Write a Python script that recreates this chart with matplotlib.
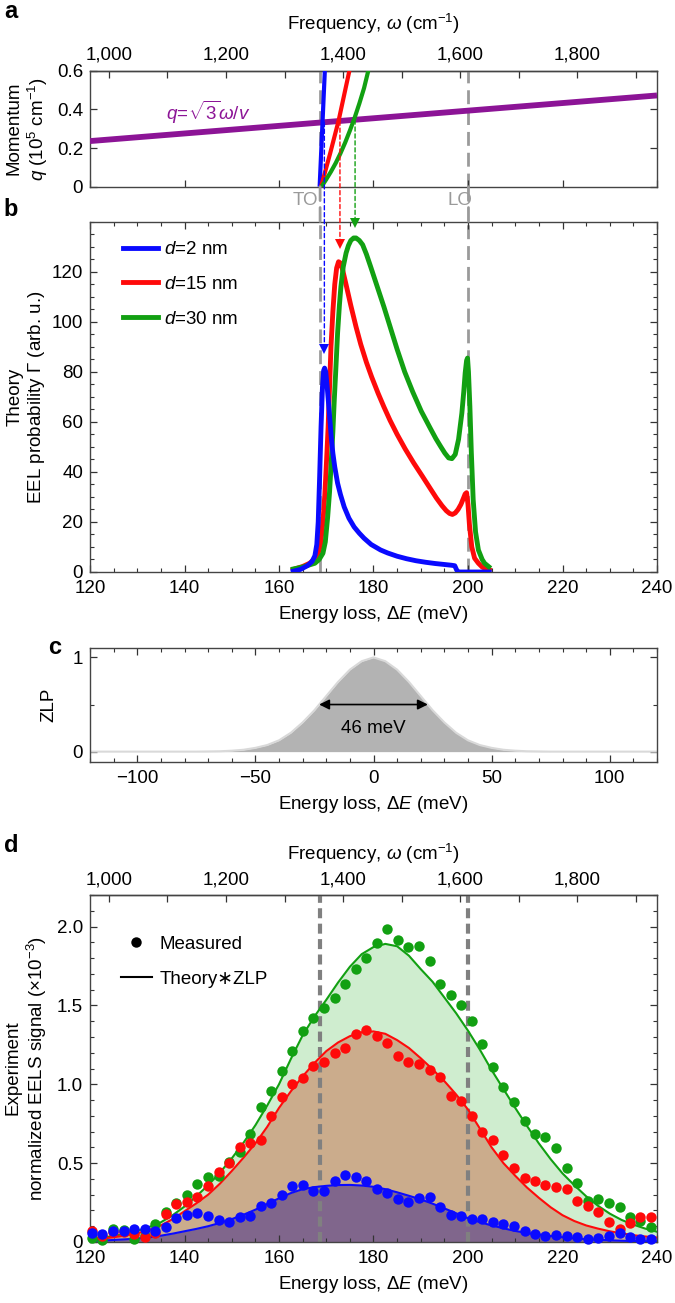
import numpy as np
import matplotlib
matplotlib.use('Agg')
import matplotlib.pyplot as plt
from matplotlib.patches import ConnectionPatch
from matplotlib.ticker import MultipleLocator, FixedLocator, FuncFormatter, NullFormatter
from matplotlib.lines import Line2D

plt.rcParams['font.family'] = ['Liberation Sans', 'DejaVu Sans']
plt.rcParams['mathtext.fontset'] = 'custom'
plt.rcParams['mathtext.rm'] = 'Liberation Sans'
plt.rcParams['mathtext.it'] = 'Liberation Sans:italic'
plt.rcParams['mathtext.bf'] = 'Liberation Sans:bold'
FS = 13.5
plt.rcParams['font.size'] = FS
plt.rcParams['axes.linewidth'] = 1.0
plt.rcParams['axes.edgecolor'] = '#444444'

# ---------------- data ----------------
# panel a: dispersion (energy meV, momentum 1e5 cm^-1)
disp_E_2 = [168.6, 169.7]
disp_q_2 = [0.0, 0.6]
disp_E_15 = [168.9, 170.8, 172.6, 174.9]
disp_q_15 = [0.0, 0.17, 0.34, 0.6]
disp_E_30 = [169.0, 170.0, 171.0, 172.0, 173.0, 174.0, 175.0, 176.0, 177.0, 178.0, 178.9]
disp_q_30 = [0.0, 0.038, 0.078, 0.122, 0.172, 0.228, 0.29, 0.356, 0.43, 0.51, 0.6]
light_E = [120.0, 240.0]
light_q = [0.236, 0.472]
TO_E = 168.7
LO_E = 200.1
arrow_E = [169.6, 172.9, 176.1]
arrow_q = [0.333, 0.339, 0.345]
arrow_tip = [89.0, 131.0, 139.5]

# panel b: theory EEL probability
b_E_2 = [163.0, 164.5, 166.0, 167.0, 167.6, 168.0, 168.3, 168.6, 168.9, 169.2, 169.45, 169.65,
         169.9, 170.2, 170.5, 170.8, 171.1, 171.4, 171.8, 172.4, 173.0, 173.8, 174.8, 175.9,
         177.0, 178.0, 179.5, 181.5, 183.0, 185.0, 187.0, 189.0, 191.0, 193.0, 195.0, 196.5,
         197.2, 197.6, 198.0, 204.5]
b_G_2 = [0.3, 1.0, 2.5, 4.2, 6.5, 11.0, 20.0, 38.0, 58.0, 74.0, 80.5, 81.5,
         80.0, 74.0, 67.0, 60.0, 53.0, 47.5, 42.0, 35.5, 31.0, 26.0, 21.5, 18.0,
         15.5, 13.5, 11.0, 8.8, 7.6, 6.3, 5.3, 4.5, 3.9, 3.4, 3.0, 2.7,
         2.5, 0.8, 0.0, 0.0]
b_E_15 = [163.0, 165.0, 166.5, 167.5, 168.3, 168.8, 169.3, 169.7, 170.0, 170.4, 170.7, 171.0,
          171.4, 171.8, 172.2, 172.6, 173.0, 173.5, 174.2, 175.2, 176.3, 177.3, 178.5, 179.6,
          181.0, 182.2, 183.5, 185.0, 186.7, 188.5, 190.3, 192.0, 193.3, 194.5, 195.4, 196.1,
          196.7, 197.3, 197.9, 198.5, 199.0, 199.4, 199.7, 200.0, 200.3, 200.8, 201.4, 202.2,
          203.0, 203.9, 204.5]
b_G_15 = [1.0, 2.2, 3.5, 5.2, 7.5, 11.0, 20.0, 31.0, 42.0, 58.0, 74.0, 90.0,
          104.0, 115.0, 121.5, 124.0, 123.5, 120.5, 114.8, 106.5, 98.0, 91.0, 83.8, 78.0,
          71.3, 66.0, 60.6, 55.0, 49.2, 43.6, 38.4, 33.4, 29.6, 26.5, 24.5, 23.4,
          23.0, 23.6, 25.0, 27.0, 29.3, 31.2, 31.7, 27.0, 19.0, 10.0, 5.5, 3.5,
          2.0, 1.1, 0.8]
b_E_30 = [163.0, 165.0, 167.6, 168.5, 169.3, 169.8, 170.3, 170.7, 171.0, 171.4, 171.7, 172.0,
          172.4, 172.8, 173.1, 173.6, 174.2, 174.7, 175.2, 175.8, 176.3, 177.0, 177.7, 178.5,
          179.4, 180.8, 182.2, 183.6, 185.0, 186.6, 188.3, 190.1, 192.0, 193.2, 194.2, 195.1,
          195.9, 196.6, 197.3, 198.0, 198.7, 199.1, 199.4, 199.7, 199.9, 200.1, 200.4, 200.7,
          201.1, 201.6, 202.2, 203.0, 203.5, 204.4]
b_G_30 = [1.2, 2.0, 3.5, 5.0, 7.5, 12.0, 22.0, 32.0, 42.0, 56.0, 68.8, 80.0,
          95.5, 107.0, 114.0, 122.0, 127.5, 130.5, 132.5, 133.5, 133.5, 132.5, 130.8, 127.0,
          122.0, 114.0, 106.0, 97.5, 89.0, 80.0, 72.0, 64.3, 57.5, 53.3, 50.2, 47.5,
          45.6, 45.3, 47.0, 53.0, 63.5, 72.0, 79.5, 84.5, 85.5, 80.0, 66.0, 48.0,
          28.8, 16.0, 8.8, 5.0, 3.5, 2.1]

# panel c: zero-loss peak
zlp_E = [-120, -115, -110, -105, -100, -95, -90, -85, -80, -75, -70, -65, -60, -55, -50, -45,
         -40, -35, -30, -25, -20, -15, -10, -5, 0, 5, 10, 15, 20, 25, 30, 35, 40, 45, 50, 55,
         60, 65, 70, 75, 80, 85, 90, 95, 100, 105, 110, 115, 120]
zlp_val = [0, 0, 0, 0, 0, 0, 0, 0, 0, 0, 0.002, 0.004, 0.01, 0.02, 0.04, 0.07,
           0.12, 0.20, 0.31, 0.44, 0.59, 0.74, 0.87, 0.96, 1.0, 0.96, 0.87, 0.74, 0.59, 0.44, 0.31,
           0.20, 0.12, 0.07, 0.04, 0.02, 0.01, 0.004, 0.002, 0, 0, 0, 0, 0, 0, 0, 0, 0, 0]

# panel d: measured EELS (x1e-3)
meas_E = [120.4, 122.6, 124.9, 127.1, 129.3, 131.6, 133.8, 136.0, 138.3, 140.5, 142.7, 145.0,
          147.2, 149.4, 151.7, 153.9, 156.1, 158.4, 160.6, 162.8, 165.1, 167.3, 169.5, 171.8,
          174.0, 176.2, 178.5, 180.7, 182.9, 185.2, 187.4, 189.6, 191.9, 194.1, 196.3, 198.6,
          200.8, 203.0, 205.3, 207.5, 209.7, 212.0, 214.2, 216.4, 218.7, 220.9, 223.1, 225.4,
          227.6, 229.8, 232.1, 234.3, 236.5, 238.8]
meas_2 = [0.06, 0.049, 0.07, 0.07, 0.082, 0.082, 0.068, 0.093, 0.150, 0.171, 0.182, 0.167,
          0.140, 0.125, 0.161, 0.165, 0.228, 0.250, 0.298, 0.357, 0.362, 0.324, 0.324, 0.389,
          0.425, 0.414, 0.389, 0.336, 0.313, 0.271, 0.256, 0.281, 0.288, 0.224, 0.171, 0.165,
          0.144, 0.146, 0.129, 0.112, 0.104, 0.072, 0.051, 0.040, 0.044, 0.038, 0.030, 0.017,
          0.023, 0.040, 0.055, 0.034, 0.019, 0.017]
meas_15 = [0.070, 0.04, 0.066, 0.064, 0.05, 0.03, 0.055, 0.178, 0.24, 0.256, 0.284, 0.355,
           0.446, 0.50, 0.605, 0.630, 0.647, 0.802, 0.922, 1.003, 1.039, 1.117, 1.144, 1.201,
           1.229, 1.320, 1.341, 1.309, 1.261, 1.182, 1.144, 1.129, 1.091, 1.043, 0.928, 0.897,
           0.800, 0.700, 0.647, 0.552, 0.467, 0.404, 0.387, 0.362, 0.351, 0.334, 0.262, 0.228,
           0.192, 0.129, 0.080, 0.118, 0.157, 0.157]
meas_30 = [0.023, 0.013, 0.080, 0.076, 0.017, 0.040, 0.114, 0.192, 0.249, 0.298, 0.368, 0.410,
           0.421, 0.510, 0.573, 0.683, 0.854, 0.958, 1.081, 1.212, 1.339, 1.419, 1.483, 1.546,
           1.635, 1.732, 1.800, 1.895, 1.984, 1.912, 1.870, 1.874, 1.783, 1.637, 1.567, 1.504,
           1.398, 1.256, 1.108, 0.981, 0.890, 0.764, 0.685, 0.668, 0.594, 0.472, 0.376, 0.260,
           0.271, 0.250, 0.220, 0.157, 0.135, 0.097]
# panel d: theory * ZLP
th_E = [120.0, 122.5, 125.0, 127.5, 130.0, 132.5, 135.0, 137.5, 140.0, 142.5, 145.0, 147.5,
        150.0, 152.5, 155.0, 157.5, 160.0, 162.5, 165.0, 167.5, 170.0, 172.5, 175.0, 177.5,
        180.0, 182.5, 185.0, 187.5, 190.0, 192.5, 195.0, 197.5, 200.0, 202.5, 205.0, 207.5,
        210.0, 212.5, 215.0, 217.5, 220.0, 222.5, 225.0, 227.5, 230.0, 232.5, 235.0, 237.5,
        240.0]
th_2 = [0.005, 0.009, 0.013, 0.017, 0.022, 0.030, 0.040, 0.053, 0.068, 0.083, 0.100, 0.121,
        0.145, 0.173, 0.205, 0.241, 0.277, 0.310, 0.335, 0.348, 0.356, 0.361, 0.362, 0.358,
        0.350, 0.335, 0.315, 0.293, 0.270, 0.243, 0.213, 0.182, 0.150, 0.126, 0.105, 0.087,
        0.070, 0.057, 0.047, 0.038, 0.030, 0.023, 0.018, 0.014, 0.011, 0.008, 0.006, 0.005,
        0.004]
th_15 = [0.015, 0.021, 0.030, 0.041, 0.055, 0.076, 0.105, 0.145, 0.195, 0.245, 0.300, 0.370,
         0.450, 0.535, 0.625, 0.730, 0.850, 0.955, 1.050, 1.135, 1.210, 1.265, 1.305, 1.330,
         1.335, 1.320, 1.280, 1.230, 1.165, 1.095, 1.020, 0.935, 0.840, 0.720, 0.600, 0.500,
         0.420, 0.345, 0.280, 0.220, 0.170, 0.133, 0.105, 0.085, 0.068, 0.055, 0.043, 0.035,
         0.028]
th_30 = [0.020, 0.028, 0.038, 0.052, 0.070, 0.095, 0.125, 0.170, 0.225, 0.290, 0.360, 0.440,
         0.530, 0.630, 0.740, 0.865, 1.000, 1.160, 1.310, 1.430, 1.535, 1.645, 1.745, 1.825,
         1.870, 1.890, 1.875, 1.815, 1.730, 1.650, 1.550, 1.450, 1.340, 1.220, 1.090, 0.970,
         0.850, 0.735, 0.625, 0.525, 0.435, 0.360, 0.290, 0.230, 0.180, 0.140, 0.110, 0.085,
         0.065]

labels_d = ['$d$=2 nm', '$d$=15 nm', '$d$=30 nm']
freq_major = [1000, 1200, 1400, 1600, 1800]
freq_minor = [1000, 1100, 1200, 1300, 1400, 1500, 1600, 1700, 1800, 1900]

# ---------------- style ----------------
C_BLUE = '#0a0aff'
C_RED = '#ff0a0a'
C_GREEN = '#12a012'
C_PURPLE = '#8c1496'
C_GRAY = '#9a9a9a'
FILL_G = '#cfedcf'
FILL_R = '#cbac8c'
FILL_B = '#80668c'
EV2CM = 8.0655


def e2w(e):
    return np.asarray(e, dtype=float) * EV2CM


def w2e(w):
    return np.asarray(w, dtype=float) / EV2CM


fig = plt.figure(figsize=(6.75, 13.03), dpi=100)
H = 1303.0
L = 90 / 675.0
W = 567 / 675.0


def rect(top, bottom):
    return [L, 1 - bottom / H, W, (bottom - top) / H]


ax_a = fig.add_axes(rect(70.7, 186.7))
ax_b = fig.add_axes(rect(221.7, 572.0))
ax_c = fig.add_axes(rect(648.0, 762.0))
ax_d = fig.add_axes(rect(895.0, 1242.0))


def style_ticks(ax, top=True):
    ax.tick_params(which='both', direction='in', top=top, right=True, colors='#333333',
                   labelcolor='black', labelsize=FS)
    ax.tick_params(axis='x', which='both', pad=6)
    ax.tick_params(axis='y', which='both', pad=5)
    ax.tick_params(which='major', length=5, width=0.9)
    ax.tick_params(which='minor', length=3, width=0.8)


def add_freq_axis(ax, labels=True):
    sec = ax.secondary_xaxis('top', functions=(e2w, w2e))
    sec.xaxis.set_major_locator(FixedLocator(freq_major))
    sec.xaxis.set_minor_locator(FixedLocator(freq_minor))
    if labels:
        sec.xaxis.set_major_formatter(FuncFormatter(lambda v, p: f'{int(round(v)):,}'))
    else:
        sec.xaxis.set_major_formatter(NullFormatter())
    sec.tick_params(which='both', direction='in', colors='#333333', labelcolor='black',
                    labelsize=FS, pad=5)
    sec.tick_params(which='major', length=5, width=0.9)
    sec.tick_params(which='minor', length=5, width=0.9)
    sec.spines['top'].set_color('#444444')
    return sec


# ---------------- panel a ----------------
ax_a.set_xlim(120, 240)
ax_a.set_ylim(0, 0.6)
ax_a.axvline(TO_E, color=C_GRAY, lw=2.0, dashes=(5, 2.5), zorder=1)
ax_a.axvline(LO_E, color=C_GRAY, lw=2.0, dashes=(5, 2.5), zorder=1)
ax_a.plot(light_E, light_q, color=C_PURPLE, lw=4.2, zorder=3, solid_capstyle='butt')
ax_a.plot(disp_E_2, disp_q_2, color=C_BLUE, lw=3.0, zorder=4, solid_capstyle='butt')
ax_a.plot(disp_E_15, disp_q_15, color=C_RED, lw=3.0, zorder=4, solid_capstyle='butt')
ax_a.plot(disp_E_30, disp_q_30, color=C_GREEN, lw=3.0, zorder=4, solid_capstyle='butt')
ax_a.text(145, 0.385, r'$q\!=\!\sqrt{3}\omega/v$', color=C_PURPLE, fontsize=FS,
          ha='center', va='center')
ax_a.xaxis.set_major_locator(MultipleLocator(20))
ax_a.xaxis.set_major_formatter(NullFormatter())
ax_a.set_yticks([0, 0.2, 0.4, 0.6])
ax_a.set_yticklabels(['0', '0.2', '0.4', '0.6'])
style_ticks(ax_a, top=False)
sec_a = add_freq_axis(ax_a)
sec_a.set_xlabel('Frequency, $\\omega$ (cm$^{-1}$)', fontsize=FS, labelpad=12)

# ---------------- panel b ----------------
ax_b.set_xlim(120, 240)
ax_b.set_ylim(0, 140)
ax_b.axvline(TO_E, color=C_GRAY, lw=2.0, dashes=(5, 2.5), zorder=1)
ax_b.axvline(LO_E, color=C_GRAY, lw=2.0, dashes=(5, 2.5), zorder=1)
ax_b.plot(b_E_2, b_G_2, color=C_BLUE, lw=3.5, label=labels_d[0], zorder=4)
ax_b.plot(b_E_15, b_G_15, color=C_RED, lw=3.5, label=labels_d[1], zorder=3)
ax_b.plot(b_E_30, b_G_30, color=C_GREEN, lw=3.5, label=labels_d[2], zorder=3)
ax_b.xaxis.set_major_locator(MultipleLocator(20))
ax_b.xaxis.set_minor_locator(MultipleLocator(5))
ax_b.yaxis.set_minor_locator(MultipleLocator(5))
ax_b.set_yticks([0, 20, 40, 60, 80, 100, 120])
style_ticks(ax_b)
ax_b.set_xlabel('Energy loss, $\\Delta E$ (meV)', fontsize=FS, labelpad=5)
ax_b.legend(loc='upper left', bbox_to_anchor=(0.058, 0.945), frameon=False, fontsize=FS,
            handlelength=1.85, handletextpad=0.35, labelspacing=0.95, borderpad=0,
            borderaxespad=0)

# connecting dashed lines (TO / LO) across gap
for xe in (TO_E, LO_E):
    con = ConnectionPatch(xyA=(xe, 0.0), coordsA=ax_a.transData, xyB=(xe, 140.0),
                          coordsB=ax_b.transData, color=C_GRAY, lw=2.0, linestyle=(0, (5, 2.5)))
    fig.add_artist(con)
ax_b.text(165.6, 148.3, 'TO', color=C_GRAY, ha='center', va='center', fontsize=FS, clip_on=False)
ax_b.text(198.2, 148.3, 'LO', color=C_GRAY, ha='center', va='center', fontsize=FS, clip_on=False)

# dashed arrows from intersections to peaks
for xe, q0, tip, c in zip(arrow_E, arrow_q, arrow_tip, (C_BLUE, C_RED, C_GREEN)):
    con = ConnectionPatch(xyA=(xe, q0), coordsA=ax_a.transData, xyB=(xe, tip),
                          coordsB=ax_b.transData, color=c, lw=1.0, linestyle=(0, (3, 2)))
    fig.add_artist(con)
    ax_b.plot([xe], [tip], marker='v', ms=6.5, color=c, clip_on=False, zorder=6, mew=0)

# ---------------- panel c ----------------
ax_c.set_xlim(-120, 120)
ax_c.set_ylim(-0.11, 1.1)
ax_c.fill_between(zlp_E, 0, zlp_val, color='#b3b3b3', lw=0)
ax_c.plot(zlp_E, zlp_val, color='#d9d9d9', lw=1.5)
ax_c.annotate('', xy=(-23, 0.5), xytext=(23, 0.5),
              arrowprops=dict(arrowstyle='<|-|>', color='black', lw=1.2,
                              mutation_scale=15, shrinkA=0, shrinkB=0))
ax_c.text(0, 0.25, '46 meV', ha='center', va='center', fontsize=FS)
ax_c.xaxis.set_major_locator(MultipleLocator(50))
ax_c.xaxis.set_minor_locator(MultipleLocator(10))
ax_c.set_yticks([0, 1])
ax_c.yaxis.set_minor_locator(FixedLocator([0.5]))
style_ticks(ax_c)
ax_c.set_xlabel('Energy loss, $\\Delta E$ (meV)', fontsize=FS, labelpad=5)

# ---------------- panel d ----------------
ax_d.set_xlim(120, 240)
ax_d.set_ylim(0, 2.2)
ax_d.fill_between(th_E, 0, th_30, color=FILL_G, lw=0, zorder=1)
ax_d.fill_between(th_E, 0, th_15, color=FILL_R, lw=0, zorder=1.1)
ax_d.fill_between(th_E, 0, th_2, color=FILL_B, lw=0, zorder=1.2)
for xe in (TO_E, LO_E):
    ax_d.axvline(xe, color='#808080', lw=3.0, dashes=(2.4, 1.3), zorder=2)
ax_d.plot(th_E, th_30, color=C_GREEN, lw=1.5, zorder=3)
ax_d.plot(th_E, th_15, color=C_RED, lw=1.5, zorder=3)
ax_d.plot(th_E, th_2, color=C_BLUE, lw=1.5, zorder=3)
ax_d.plot(meas_E, meas_30, 'o', color=C_GREEN, ms=7.5, mew=0, zorder=4, clip_on=False)
ax_d.plot(meas_E, meas_15, 'o', color=C_RED, ms=7.5, mew=0, zorder=4, clip_on=False)
ax_d.plot(meas_E, meas_2, 'o', color=C_BLUE, ms=7.5, mew=0, zorder=4, clip_on=False)
ax_d.xaxis.set_major_locator(MultipleLocator(20))
ax_d.xaxis.set_minor_locator(MultipleLocator(5))
ax_d.set_yticks([0, 0.5, 1.0, 1.5, 2.0])
ax_d.set_yticklabels(['0', '0.5', '1.0', '1.5', '2.0'])
ax_d.yaxis.set_minor_locator(MultipleLocator(0.1))
style_ticks(ax_d, top=False)
ax_d.set_xlabel('Energy loss, $\\Delta E$ (meV)', fontsize=FS, labelpad=5)
sec_d = add_freq_axis(ax_d)
sec_d.set_xlabel('Frequency, $\\omega$ (cm$^{-1}$)', fontsize=FS, labelpad=8)
hd = [Line2D([], [], ls='none', marker='o', color='black', ms=7.5, mew=0),
      Line2D([], [], color='black', lw=1.5)]
ax_d.legend(hd, ['Measured', 'Theory\u2217ZLP'], loc='upper left', bbox_to_anchor=(0.054, 0.883),
            frameon=False, fontsize=FS, handlelength=1.65, handletextpad=0.45, labelspacing=0.95,
            borderpad=0, borderaxespad=0)

# ---------------- labels ----------------
def ftext(x, y, s, **kw):
    fig.text(x / 675.0, 1 - y / H, s, **kw)


ftext(28, 128.7, 'Momentum\n$q$ (10$^5$ cm$^{-1}$)', rotation=90, ha='center', va='center',
      multialignment='center', fontsize=FS)
ftext(27, 397, 'Theory\nEEL probability $\\mathit{\\Gamma}$ (arb. u.)', rotation=90, ha='center',
      va='center', multialignment='center', fontsize=FS)
ftext(49, 705, 'ZLP', rotation=90, ha='center', va='center', fontsize=FS)
ftext(27, 1068, 'Experiment\nnormalized EELS signal (\u00d710$^{-3}$)', rotation=90, ha='center',
      va='center', multialignment='center', fontsize=FS)

for s, x, y in (('a', 11, 12), ('b', 11, 209), ('c', 55, 648), ('d', 11, 846)):
    ftext(x, y, s, fontweight='bold', fontsize=17, ha='center', va='center')

fig.savefig('out.png', dpi=100)
